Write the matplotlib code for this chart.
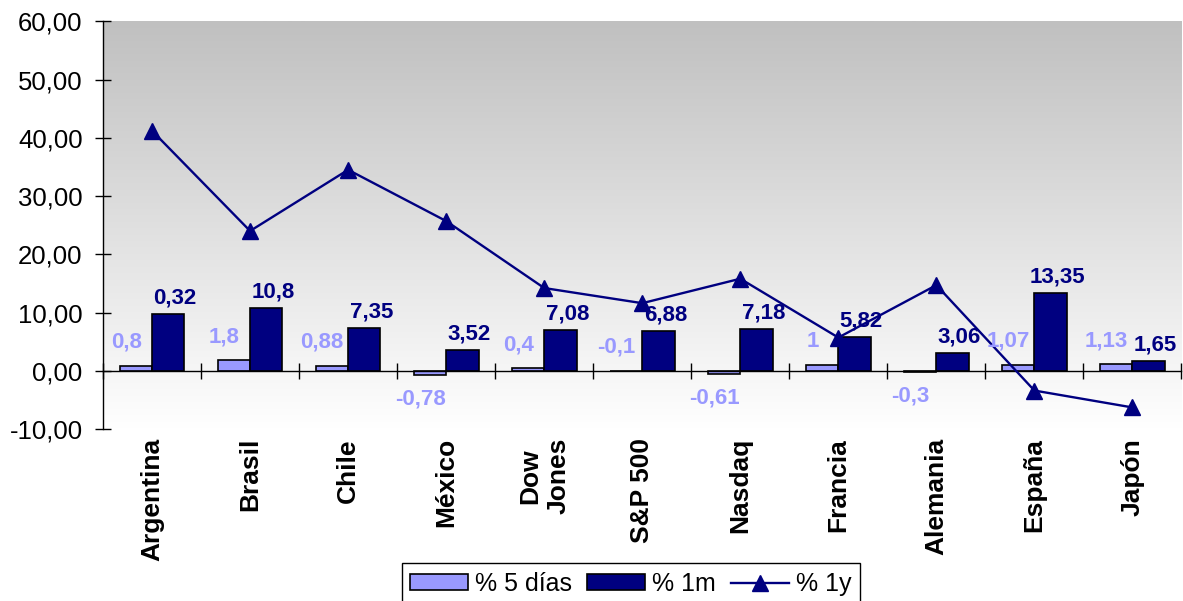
import matplotlib.pyplot as plt
import numpy as np
from matplotlib.colors import LinearSegmentedColormap

plt.rcParams['font.family'] = ['Liberation Sans', 'DejaVu Sans']

# datos
paises = ['Argentina', 'Brasil', 'Chile', 'México', 'Dow\nJones', 'S&P 500',
          'Nasdaq', 'Francia', 'Alemania', 'España', 'Japón']
dias5 = [0.8, 1.8, 0.88, -0.78, 0.4, -0.1, -0.61, 1.0, -0.3, 1.07, 1.13]
mes1 = [9.7, 10.8, 7.35, 3.52, 7.08, 6.88, 7.18, 5.82, 3.06, 13.35, 1.65]
anio1 = [41.2, 24.0, 34.5, 25.7, 14.2, 11.6, 15.8, 5.7, 14.7, -3.4, -6.3]
etiq_5d = ['0,8', '1,8', '0,88', '-0,78', '0,4', '-0,1', '-0,61', '1', '-0,3', '1,07', '1,13']
etiq_1m = ['0,32', '10,8', '7,35', '3,52', '7,08', '6,88', '7,18', '5,82', '3,06', '13,35', '1,65']
y_ticks = [-10, 0, 10, 20, 30, 40, 50, 60]

claro = '#9999ff'
oscuro = '#000080'

fig = plt.figure(figsize=(11.83, 6.01), dpi=100)
ax = fig.add_axes([0.0871, 0.2862, 0.9987 - 0.0871, 0.9646 - 0.2862])

# fondo degradado gris -> blanco
grad = np.linspace(0, 1, 256).reshape(-1, 1)
cmap = LinearSegmentedColormap.from_list('fondo', ['white', '#c0c0c0'])
ax.imshow(grad, extent=[0, 1, 0, 1], transform=ax.transAxes, cmap=cmap,
          origin='lower', aspect='auto', zorder=0)

x = np.arange(len(paises))
w = 0.33
b5 = ax.bar(x - w / 2, dias5, w, color=claro, edgecolor='black', linewidth=1.2,
            label='% 5 días', zorder=2)
b1 = ax.bar(x + w / 2, mes1, w, color=oscuro, edgecolor='black', linewidth=1.2,
            label='% 1m', zorder=2)
ln, = ax.plot(x, anio1, color=oscuro, linewidth=1.7, marker='^', markersize=11.5,
              label='% 1y', zorder=4)

for i in range(len(paises)):
    # etiquetas pequenas negativas quedan arriba como en el original
    if dias5[i] > -0.2:
        ax.annotate(etiq_5d[i], (x[i] - w / 2, max(dias5[i], 0)), xytext=(-7, 17),
                    textcoords='offset points', ha='center', va='center',
                    color=claro, fontsize=16, fontweight='bold', zorder=5)
    else:
        ax.annotate(etiq_5d[i], (x[i] - w / 2, dias5[i]), xytext=(-7, -17),
                    textcoords='offset points', ha='center', va='center',
                    color=claro, fontsize=16, fontweight='bold', zorder=5)
    ax.annotate(etiq_1m[i], (x[i] + w / 2, mes1[i]), xytext=(5, 11.5),
                textcoords='offset points', ha='center', va='center',
                color=oscuro, fontsize=16, fontweight='bold', zorder=5)
    ax.annotate(paises[i], (x[i], 0), xycoords=('data', 'axes fraction'),
                xytext=(0, -6.5), textcoords='offset points', rotation=90,
                ha='center', va='top', multialignment='center',
                fontsize=19, fontweight='bold')

ax.set_xlim(-0.5, len(paises) - 0.5)
ax.set_ylim(-10, 60)
ax.set_yticks(y_ticks)
ax.set_yticklabels([f'{v:.2f}'.replace('.', ',') for v in y_ticks])
ax.set_xticks(np.arange(-0.5, len(paises), 1))
ax.set_xticklabels([])

ax.spines['top'].set_visible(False)
ax.spines['right'].set_visible(False)
ax.spines['bottom'].set_position(('data', 0))
ax.spines['bottom'].set_zorder(3)
ax.spines['left'].set_linewidth(1)
ax.spines['bottom'].set_linewidth(1)
ax.tick_params(axis='y', direction='inout', length=11.5, width=1, labelsize=18.5, pad=9)
ax.tick_params(axis='x', direction='inout', length=11.5, width=1)

leg = fig.legend(handles=[b5, b1, ln], loc='upper center', bbox_to_anchor=(0.5334, 0.0627),
                 ncol=3, fontsize=18, frameon=True, fancybox=False, edgecolor='black',
                 framealpha=1, handlelength=2.3, handleheight=0.6, handletextpad=0.3,
                 columnspacing=0.6, borderpad=0.35, borderaxespad=0)
leg.get_frame().set_linewidth(1)

fig.savefig('out.png', dpi=100)
